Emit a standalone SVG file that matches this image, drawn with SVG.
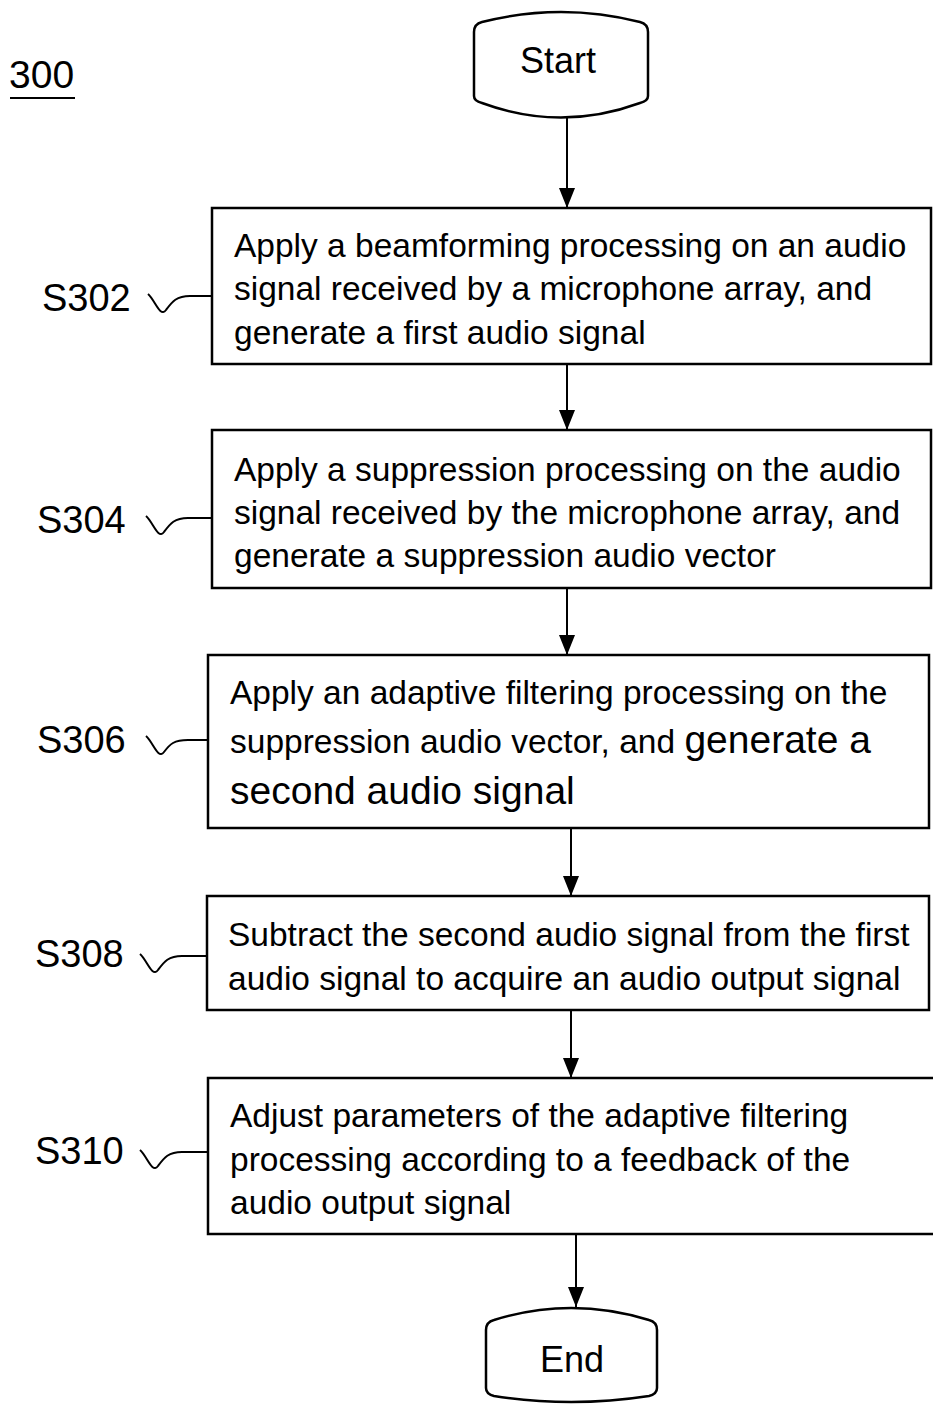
<svg xmlns="http://www.w3.org/2000/svg" width="933" height="1405" viewBox="0 0 933 1405">
<style>
text{font-family:"Liberation Sans",Arial,sans-serif;fill:#000}
.t{font-size:33.5px}
.big{font-size:39px}
.lbl{font-size:38px}
.box{fill:#fff;stroke:#000;stroke-width:2.5}
.ln{fill:none;stroke:#000;stroke-width:2}
.sq{fill:none;stroke:#000;stroke-width:2}
</style>
<defs>
<marker id="a" markerWidth="20" markerHeight="16" refX="20" refY="8" orient="auto" markerUnits="userSpaceOnUse" viewBox="0 0 20 16">
<path d="M0,0 L20,8 L0,16 Z" fill="#000"/>
</marker>
</defs>
<g id="fig-label">
<text x="9" y="88" style="font-size:39px">300</text>
<line x1="10" y1="98" x2="75" y2="98" stroke="#000" stroke-width="2"/>
</g>
<g id="connectors">
<line class="ln" x1="567" y1="117" x2="567" y2="208" marker-end="url(#a)"/>
<line class="ln" x1="567" y1="364" x2="567" y2="430" marker-end="url(#a)"/>
<line class="ln" x1="567" y1="588" x2="567" y2="655" marker-end="url(#a)"/>
<line class="ln" x1="571" y1="828" x2="571" y2="896" marker-end="url(#a)"/>
<line class="ln" x1="571" y1="1010" x2="571" y2="1078" marker-end="url(#a)"/>
<line class="ln" x1="576" y1="1234" x2="576" y2="1307" marker-end="url(#a)"/>
</g>
<g id="start">
<path class="box" d="M474,32 Q474,24 482,22 Q561,2 640,22 Q648,24 648,32 L648,96 Q648,101 640,103 Q561,132 482,103 Q474,101 474,96 Z"/>
<text class="t" x="558" y="73" text-anchor="middle" style="font-size:36px">Start</text>
</g>
<g id="S302">
<rect class="box" x="212" y="208" width="719" height="156"/>
<text class="t" x="234" y="257">Apply a beamforming processing on an audio</text>
<text class="t" x="234" y="300">signal received by a microphone array, and</text>
<text class="t" x="234" y="344">generate a first audio signal</text>
<text class="lbl" x="42" y="311">S302</text>
<path class="sq" d="M148,294 C155,300 160,318 166,310 C172,302 176,296 190,296 L212,296"/>
</g>
<g id="S304">
<rect class="box" x="212" y="430" width="719" height="158"/>
<text class="t" x="234" y="481">Apply a suppression processing on the audio</text>
<text class="t" x="234" y="524">signal received by the microphone array, and</text>
<text class="t" x="234" y="567">generate a suppression audio vector</text>
<text class="lbl" x="37" y="533">S304</text>
<path class="sq" d="M146,516 C153,522 158,540 164,532 C170,524 174,518 188,518 L212,518"/>
</g>
<g id="S306">
<rect class="box" x="208" y="655" width="721" height="173"/>
<text class="t" x="230" y="704">Apply an adaptive filtering processing on the</text>
<text x="230" y="753"><tspan class="t">suppression audio vector, and </tspan><tspan class="big">generate a</tspan></text>
<text class="big" x="230" y="804">second audio signal</text>
<text class="lbl" x="37" y="753">S306</text>
<path class="sq" d="M146,736 C153,742 158,760 164,752 C170,744 174,740 188,740 L208,740"/>
</g>
<g id="S308">
<rect class="box" x="207" y="896" width="722" height="114"/>
<text class="t" x="228" y="946">Subtract the second audio signal from the first</text>
<text class="t" x="228" y="990">audio signal to acquire an audio output signal</text>
<text class="lbl" x="35" y="967">S308</text>
<path class="sq" d="M140,954 C147,960 152,978 158,970 C164,962 168,956 182,956 L207,956"/>
</g>
<g id="S310">
<rect class="box" x="208" y="1078" width="730" height="156"/>
<text class="t" x="230" y="1127">Adjust parameters of the adaptive filtering</text>
<text class="t" x="230" y="1171">processing according to a feedback of the</text>
<text class="t" x="230" y="1214">audio output signal</text>
<text class="lbl" x="35" y="1164">S310</text>
<path class="sq" d="M140,1150 C147,1156 152,1174 158,1166 C164,1158 168,1152 182,1152 L208,1152"/>
</g>
<g id="end">
<path class="box" d="M486,1330 Q486,1322 494,1320 Q571,1296 649,1320 Q657,1322 657,1330 L657,1388 Q657,1394 649,1396 Q571,1408 494,1396 Q486,1394 486,1388 Z"/>
<text class="t" x="572" y="1372" text-anchor="middle" style="font-size:36px">End</text>
</g>
</svg>
